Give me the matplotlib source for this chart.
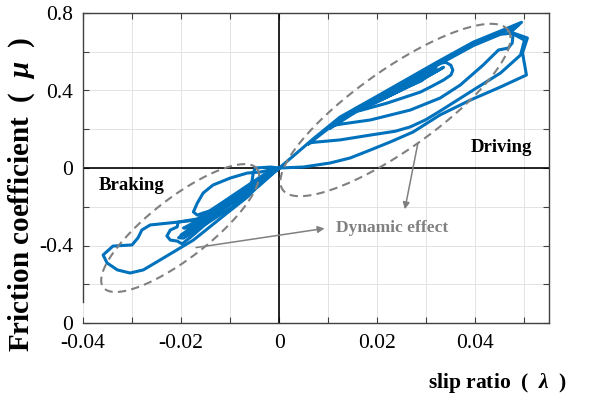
import numpy as np
import matplotlib
matplotlib.use("Agg")
import matplotlib.pyplot as plt
from matplotlib.ticker import MultipleLocator, FuncFormatter

plt.rcParams['font.family'] = ['Liberation Serif', 'DejaVu Serif']
plt.rcParams['mathtext.fontset'] = 'custom'
plt.rcParams['mathtext.rm'] = 'Liberation Serif:bold'
plt.rcParams['mathtext.it'] = 'Liberation Serif:bold:italic'
plt.rcParams['mathtext.bf'] = 'Liberation Serif:bold'

# ---- data (slip ratio, friction coefficient) ----
# driving side loops
u1_x = [0, 0.0043, 0.0069, 0.0124, 0.0186, 0.0261, 0.0322, 0.0396, 0.0451, 0.0494,
        0.0471, 0.0506, 0.0496, 0.0504, 0.0451, 0.0390, 0.0328, 0.0273, 0.0226, 0.0186,
        0.0145, 0.0104, 0.0049, 0]
u1_y = [0, 0.093, 0.150, 0.263, 0.351, 0.459, 0.547, 0.650, 0.707, 0.752,
        0.702, 0.671, 0.594, 0.480, 0.418, 0.351, 0.274, 0.186, 0.134, 0.093,
        0.052, 0.026, 0.005, 0]
u2_x = [0.0060, 0.0124, 0.0186, 0.0261, 0.0322, 0.0396, 0.0451, 0.0488,
        0.0471, 0.0500, 0.0492, 0.0451, 0.0396, 0.0328, 0.0298, 0.0267, 0.0237, 0.0186,
        0.0124, 0.0094, 0.0072, 0.0063, 0.0060]
u2_y = [0.125, 0.250, 0.340, 0.447, 0.535, 0.638, 0.696, 0.738,
        0.700, 0.660, 0.583, 0.490, 0.403, 0.294, 0.248, 0.212, 0.190, 0.170,
        0.145, 0.138, 0.133, 0.130, 0.125]
u3_x = [0.0104, 0.0186, 0.0261, 0.0322, 0.0396, 0.0451, 0.0477, 0.0475, 0.0467, 0.0447,
        0.0416, 0.0369, 0.0328, 0.0267, 0.0186, 0.0130, 0.0110, 0.0104]
u3_y = [0.205, 0.338, 0.442, 0.530, 0.632, 0.690, 0.697, 0.645, 0.619, 0.609,
        0.532, 0.428, 0.361, 0.299, 0.248, 0.228, 0.220, 0.210]
u4_x = [0.0151, 0.0186, 0.0261, 0.0322, 0.0340, 0.0350, 0.0354, 0.0350, 0.0335, 0.0312,
        0.0288, 0.0220, 0.0170, 0.0155, 0.0151]
u4_y = [0.282, 0.340, 0.450, 0.540, 0.545, 0.530, 0.505, 0.480, 0.454, 0.423,
        0.392, 0.335, 0.300, 0.290, 0.285]
u5a_x = [0.0155, 0.0220, 0.0290, 0.0312, 0.0318, 0.0310, 0.0270, 0.0210, 0.0160, 0.0155]
u5a_y = [0.305, 0.395, 0.490, 0.515, 0.525, 0.500, 0.440, 0.370, 0.312, 0.305]
u5b_x = [0.0170, 0.0230, 0.0280, 0.0300, 0.0290, 0.0240, 0.0180, 0.0170]
u5b_y = [0.320, 0.400, 0.455, 0.470, 0.450, 0.395, 0.330, 0.320]
u5c_x = [0.0200, 0.0260, 0.0300, 0.0320, 0.0305, 0.0250, 0.0200]
u5c_y = [0.350, 0.430, 0.495, 0.515, 0.485, 0.410, 0.350]
u5d_x = [0.0165, 0.0240, 0.0300, 0.0335, 0.0325, 0.0280, 0.0215, 0.0165]
u5d_y = [0.300, 0.392, 0.470, 0.520, 0.505, 0.440, 0.360, 0.300]

# braking side loops
l1_x = [0, -0.0025, -0.0065, -0.0106, -0.0175, -0.0243, -0.0277, -0.0304, -0.0330, -0.0351,
        -0.0359, -0.0339, -0.0300, -0.0288, -0.0280, -0.0263, -0.0206, -0.0167, -0.0120,
        -0.0069, -0.0029, 0]
l1_y = [0, -0.046, -0.150, -0.232, -0.372, -0.475, -0.526, -0.542, -0.526, -0.490,
        -0.449, -0.403, -0.397, -0.361, -0.320, -0.294, -0.279, -0.268, -0.191,
        -0.103, -0.036, 0]
l2_x = [0, -0.0035, -0.0080, -0.0125, -0.0175, -0.0198, -0.0208, -0.0222, -0.0229,
        -0.0222, -0.0208, -0.0206, -0.0167, -0.0120, -0.0069, -0.0029, 0]
l2_y = [0, -0.060, -0.150, -0.235, -0.345, -0.392, -0.377, -0.372, -0.351,
        -0.320, -0.304, -0.279, -0.263, -0.185, -0.098, -0.030, 0]
l3_x = [0, -0.0018, -0.0049, -0.0053, -0.0055, -0.0063, -0.0073, -0.0100, -0.0135, -0.0155,
        -0.0167, -0.0175, -0.0167, -0.0155, -0.0135, -0.0100, -0.0065, -0.0039, 0]
l3_y = [0, 0.005, 0.0, -0.026, -0.062, -0.124, -0.150, -0.175, -0.217, -0.232,
        -0.243, -0.227, -0.181, -0.129, -0.088, -0.052, -0.026, -0.021, 0]
b1_x = [0, -0.0060, -0.0120, -0.0180, -0.0195, -0.0185, -0.0130, -0.0070, -0.0020, 0]
b1_y = [0, -0.100, -0.200, -0.290, -0.310, -0.310, -0.230, -0.130, -0.040, 0]
b2_x = [0, -0.0070, -0.0140, -0.0185, -0.0200, -0.0190, -0.0140, -0.0080, 0]
b2_y = [0, -0.125, -0.240, -0.320, -0.345, -0.345, -0.255, -0.150, 0]
b3_x = [0, -0.0050, -0.0100, -0.0150, -0.0165, -0.0150, -0.0100, -0.0050, 0]
b3_y = [0, -0.075, -0.160, -0.240, -0.262, -0.255, -0.180, -0.090, 0]
b4_x = [0, -0.0045, -0.0095, -0.0150, -0.0190, -0.0205, -0.0195, -0.0150, -0.0095, -0.0040, 0]
b4_y = [0, -0.085, -0.180, -0.270, -0.330, -0.360, -0.362, -0.290, -0.200, -0.090, 0]
b5_x = [0, -0.0055, -0.0110, -0.0160, -0.0178, -0.0170, -0.0120, -0.0060, 0]
b5_y = [0, -0.095, -0.190, -0.275, -0.300, -0.292, -0.215, -0.115, 0]

loops = [(u1_x, u1_y), (u2_x, u2_y), (u3_x, u3_y), (u4_x, u4_y),
         (u5a_x, u5a_y), (u5b_x, u5b_y), (u5c_x, u5c_y), (u5d_x, u5d_y),
         (l1_x, l1_y), (l2_x, l2_y), (l3_x, l3_y),
         (b1_x, b1_y), (b2_x, b2_y), (b3_x, b3_y), (b4_x, b4_y), (b5_x, b5_y)]

# dashed ellipses marking the dynamic effect: centre, half-axis vectors
ell_up = ((0.0237, 0.2993), (0.02298, 0.4118), (0.00472, -0.1684))
ell_lo = ((-0.0202, -0.3100), (0.01565, 0.3066), (0.00375, -0.1224))

y_ticks = [-0.8, -0.4, 0, 0.4, 0.8]
y_ticklabels = ['0', '-0.4', '0', '0.4', '0.8']

blue = '#0072BD'
grey = '#808080'

fig = plt.figure(figsize=(5.93, 3.98), dpi=100)
ax = fig.add_axes([83/593, 1-323/398, 466/593, 310/398])

for xs, ys in loops:
    ax.plot(xs, ys, color=blue, lw=2.2, solid_joinstyle='round', zorder=3)

t = np.linspace(0, 2*np.pi, 300)
for (c, a, b) in (ell_up, ell_lo):
    ex = c[0] + a[0]*np.cos(t) + b[0]*np.sin(t)
    ey = c[1] + a[1]*np.cos(t) + b[1]*np.sin(t)
    ax.plot(ex, ey, color=grey, lw=1.5, ls=(0, (4, 2.5)), zorder=4)

ax.axhline(0, color='k', lw=1.2, zorder=2)
ax.axvline(0, color='k', lw=1.2, zorder=2)

ax.set_xlim(-0.04, 0.055)
ax.set_ylim(-0.8, 0.8)
ax.xaxis.set_major_locator(MultipleLocator(0.01))
ax.yaxis.set_major_locator(MultipleLocator(0.2))

def xfmt(v, pos):
    k = v / 0.02
    if abs(k - round(k)) > 1e-6:
        return ''
    if abs(v) < 1e-9:
        return '0'
    return '%g' % round(v, 3)

ax.xaxis.set_major_formatter(FuncFormatter(xfmt))

def yfmt(v, pos):
    for yt, lab in zip(y_ticks, y_ticklabels):
        if abs(v - yt) < 1e-6:
            return lab
    return ''

ax.yaxis.set_major_formatter(FuncFormatter(yfmt))

ax.grid(True, color='#e3e3e3', lw=0.7, zorder=0)
ax.tick_params(direction='in', length=4, width=0.8, color='#404040', top=True, right=True,
               labelsize=15.5)
ax.tick_params(axis='x', pad=8)
ax.tick_params(axis='y', pad=7)
for s in ax.spines.values():
    s.set_color('#404040')
    s.set_linewidth(1.0)
ax.spines['left'].set_bounds(-0.69, 0.8)

ax.text(-0.0300, -0.088, 'Braking', fontsize=13.5, fontweight='bold', ha='center', va='center')
ax.text(0.0453, 0.108, 'Driving', fontsize=13.5, fontweight='bold', ha='center', va='center')
ax.text(0.0231, -0.310, 'Dynamic effect', fontsize=12.5, fontweight='bold', color=grey,
        ha='center', va='center')
ax.annotate('', xy=(0.0255, -0.227), xytext=(0.0284, 0.1445),
            arrowprops=dict(arrowstyle='-|>', color=grey, lw=1.1, mutation_scale=10))
ax.annotate('', xy=(0.0098, -0.3097), xytext=(-0.0175, -0.4129),
            arrowprops=dict(arrowstyle='-|>', color=grey, lw=1.1, mutation_scale=10))

fig.text(567/593, 1-383/398, r'slip ratio  (  $\lambda$  )', fontsize=15.5, fontweight='bold',
         ha='right', va='center')
fig.text(22/593, 1-194/398, r'Friction coefficient  (  $\mu$  )', fontsize=21, fontweight='bold',
         rotation=90, ha='center', va='center')

fig.savefig('out.png', dpi=100)
